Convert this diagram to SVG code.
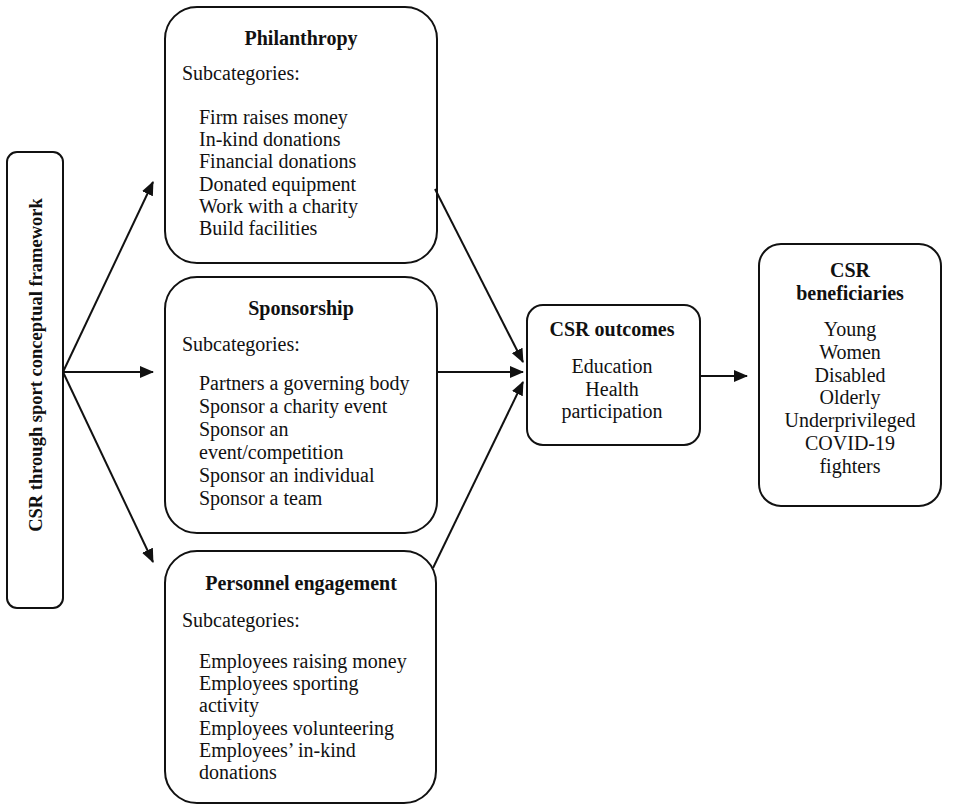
<svg xmlns="http://www.w3.org/2000/svg" width="960" height="806" viewBox="0 0 960 806">
<defs>
<style>
.box{fill:#fff;stroke:#111;stroke-width:2}
text{font-family:"Liberation Serif","Times New Roman",serif;font-size:20px;fill:#111}
.b{font-weight:bold}
.c{text-anchor:middle}
.conn line{stroke:#111;stroke-width:2;fill:none}
</style>
<marker id="ah" markerWidth="14" markerHeight="12" refX="13" refY="6" orient="auto" markerUnits="userSpaceOnUse">
<path d="M0,0 L14,6 L0,12 Z" fill="#111"/>
</marker>
</defs>
<rect width="960" height="806" fill="#fff"/>
<g id="framework">
<rect class="box" x="7" y="152" width="56" height="456" rx="10"/>
<text class="b c" transform="translate(42,365) rotate(-90)" style="font-size:18.5px">CSR through sport conceptual framework</text>
</g>
<g id="philanthropy">
<rect class="box" x="165" y="7" width="272" height="256" rx="32"/>
<text class="b c" x="301" y="45">Philanthropy</text>
<text x="182" y="80">Subcategories:</text>
<text x="199" y="124">Firm raises money</text>
<text x="199" y="146.2">In-kind donations</text>
<text x="199" y="168.4">Financial donations</text>
<text x="199" y="190.6">Donated equipment</text>
<text x="199" y="212.8">Work with a charity</text>
<text x="199" y="235">Build facilities</text>
</g>
<g id="sponsorship">
<rect class="box" x="165" y="277" width="272" height="256" rx="32"/>
<text class="b c" x="301" y="315">Sponsorship</text>
<text x="182" y="351">Subcategories:</text>
<text x="199" y="390">Partners a governing body</text>
<text x="199" y="413">Sponsor a charity event</text>
<text x="199" y="436">Sponsor an</text>
<text x="199" y="459">event/competition</text>
<text x="199" y="482">Sponsor an individual</text>
<text x="199" y="505">Sponsor a team</text>
</g>
<g id="personnel">
<rect class="box" x="165" y="551" width="271" height="252" rx="32"/>
<text class="b c" x="301" y="590">Personnel engagement</text>
<text x="182" y="627">Subcategories:</text>
<text x="199" y="668">Employees raising money</text>
<text x="199" y="690.2">Employees sporting</text>
<text x="199" y="712.4">activity</text>
<text x="199" y="734.6">Employees volunteering</text>
<text x="199" y="756.8">Employees’ in-kind</text>
<text x="199" y="779">donations</text>
</g>
<g id="outcomes">
<rect class="box" x="527" y="305" width="173" height="140" rx="16"/>
<text class="b c" x="612" y="336">CSR outcomes</text>
<text class="c" x="612" y="373">Education</text>
<text class="c" x="612" y="395.5">Health</text>
<text class="c" x="612" y="418">participation</text>
</g>
<g id="beneficiaries">
<rect class="box" x="759" y="244" width="182" height="262" rx="22"/>
<text class="b c" x="850" y="277">CSR</text>
<text class="b c" x="850" y="300">beneficiaries</text>
<text class="c" x="850" y="336">Young</text>
<text class="c" x="850" y="358.8">Women</text>
<text class="c" x="850" y="381.6">Disabled</text>
<text class="c" x="850" y="404.4">Olderly</text>
<text class="c" x="850" y="427.2">Underprivileged</text>
<text class="c" x="850" y="450">COVID-19</text>
<text class="c" x="850" y="472.8">fighters</text>
</g>
<g id="connectors" class="conn">
<line x1="63" y1="372" x2="153" y2="182" marker-end="url(#ah)"/>
<line x1="63" y1="372" x2="153" y2="372" marker-end="url(#ah)"/>
<line x1="63" y1="372" x2="153" y2="562" marker-end="url(#ah)"/>
<line x1="435" y1="189" x2="523" y2="362" marker-end="url(#ah)"/>
<line x1="437" y1="372" x2="523" y2="372" marker-end="url(#ah)"/>
<line x1="433" y1="568" x2="523" y2="382" marker-end="url(#ah)"/>
<line x1="700" y1="376" x2="747" y2="376" marker-end="url(#ah)"/>
</g>
</svg>
